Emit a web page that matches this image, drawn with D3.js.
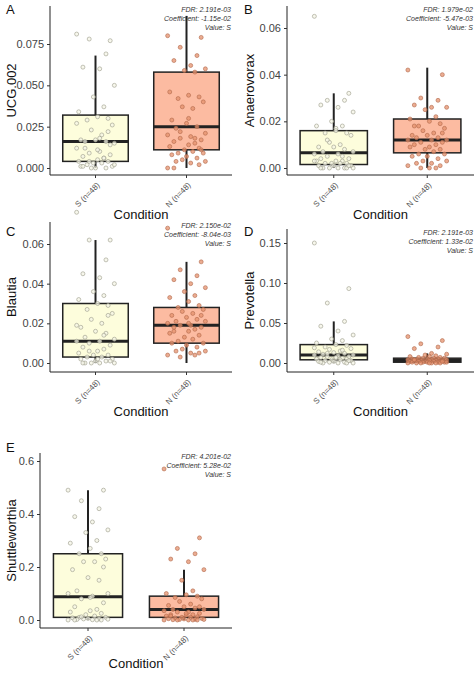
<!DOCTYPE html><html><head><meta charset="utf-8"><script src="https://cdn.jsdelivr.net/npm/d3@7"></script>
<style>body{margin:0;background:#fff}text{font-family:Arial,"Liberation Sans",sans-serif}</style></head><body><svg id="c" width="474" height="675"></svg>
<script>
const categories=["S (n=48)","N (n=48)"];
const panelNames=["UCG.002","Anaerovorax","Blautia","Prevotella","Shuttleworthia"];
const letters=["A","B","C","D","E"];
const fdr=["2.191e-03","1.979e-02","2.150e-02","2.191e-03","4.201e-02"];
const coef=["-1.15e-02","-5.47e-03","-8.04e-03","1.33e-02","5.28e-02"];
const yTicks=[[0,0.025,0.05,0.075],[0,0.02,0.04,0.06],[0,0.02,0.04,0.06],[0,0.05,0.10,0.15],[0,0.2,0.4,0.6]];
const tickFmt=[".3f",".2f",".2f",".2f",".1f"];
const boxS=[[0,0.004,0.016,0.032,0.068],[0,0.0015,0.0065,0.016,0.032],[0,0.003,0.011,0.030,0.062],[0,0.004,0.010,0.023,0.052],[0,0.01,0.088,0.25,0.49]];
const boxN=[[0,0.011,0.025,0.058,0.092],[0,0.0065,0.012,0.021,0.043],[0,0.010,0.019,0.028,0.051],[0,0.001,0.003,0.006,0.012],[0,0.01,0.04,0.09,0.19]];
const ptsS=[
[0.081,0.077,0.078,0.069,0.061,0.060,0.050,0.043,0.037,0.034,0.031,0.030,0.029,0.026,0.023,0.020,0.017,0.017,0.016,0.016,0.015,0.012,0.010,0.009,0.008,0.007,0.006,0.005,0.004,0.004,0.003,0.003,0.002,0.001,0.001,0.000,0.000,0.000,0.002,0.012,0.018,0.022,0.027,0.006,0.004,0.011,0.014,0.001],
[0.065,0.032,0.029,0.029,0.027,0.026,0.024,0.020,0.018,0.018,0.017,0.015,0.015,0.014,0.011,0.010,0.009,0.009,0.008,0.007,0.007,0.006,0.006,0.005,0.004,0.004,0.003,0.003,0.003,0.002,0.002,0.002,0.002,0.001,0.001,0.001,0.000,0.000,0.000,0.000,0.000,0.000,0.003,0.005,0.012,0.016,0.001,0.000],
[0.076,0.062,0.062,0.052,0.045,0.043,0.040,0.036,0.034,0.032,0.030,0.029,0.027,0.025,0.022,0.020,0.018,0.016,0.015,0.013,0.012,0.011,0.011,0.010,0.009,0.008,0.007,0.006,0.005,0.004,0.004,0.003,0.003,0.002,0.002,0.001,0.001,0.000,0.000,0.000,0.000,0.024,0.019,0.014,0.006,0.002,0.001,0.000],
[0.150,0.093,0.075,0.052,0.046,0.040,0.035,0.030,0.028,0.025,0.023,0.022,0.020,0.018,0.017,0.015,0.014,0.013,0.012,0.011,0.010,0.010,0.009,0.008,0.008,0.007,0.006,0.006,0.005,0.005,0.004,0.004,0.003,0.003,0.002,0.002,0.001,0.001,0.000,0.000,0.000,0.000,0.019,0.016,0.012,0.007,0.003,0.001],
[0.49,0.49,0.45,0.42,0.39,0.37,0.34,0.33,0.30,0.29,0.27,0.25,0.25,0.23,0.22,0.22,0.19,0.16,0.15,0.11,0.10,0.10,0.09,0.08,0.065,0.05,0.04,0.035,0.03,0.025,0.02,0.015,0.01,0.01,0.008,0.006,0.005,0.004,0.003,0.002,0.001,0.0,0.0,0.0,0.012,0.085,0.2,0.0]];
const ptsN=[
[0.080,0.079,0.073,0.068,0.065,0.062,0.060,0.059,0.058,0.046,0.044,0.043,0.042,0.040,0.037,0.036,0.029,0.027,0.025,0.024,0.021,0.020,0.019,0.018,0.017,0.016,0.015,0.014,0.013,0.012,0.011,0.010,0.009,0.009,0.008,0.007,0.006,0.005,0.004,0.004,0.003,0.002,0.000,0.018,0.022,0.030,0.011,0.0],
[0.042,0.040,0.030,0.029,0.027,0.026,0.026,0.025,0.022,0.021,0.020,0.019,0.018,0.017,0.016,0.015,0.014,0.014,0.013,0.013,0.012,0.012,0.012,0.011,0.011,0.010,0.010,0.009,0.009,0.008,0.008,0.007,0.006,0.006,0.005,0.005,0.004,0.003,0.003,0.002,0.002,0.001,0.001,0.000,0.000,0.000,0.015,0.018],
[0.068,0.051,0.047,0.044,0.042,0.040,0.038,0.036,0.034,0.033,0.031,0.029,0.028,0.027,0.026,0.025,0.024,0.023,0.022,0.021,0.021,0.020,0.019,0.019,0.018,0.018,0.017,0.016,0.015,0.014,0.013,0.012,0.011,0.010,0.010,0.009,0.008,0.007,0.006,0.006,0.005,0.005,0.004,0.004,0.003,0.020,0.024,0.016],
[0.033,0.028,0.024,0.020,0.018,0.012,0.011,0.010,0.009,0.008,0.008,0.007,0.007,0.006,0.006,0.006,0.005,0.005,0.005,0.004,0.004,0.004,0.004,0.003,0.003,0.003,0.003,0.003,0.002,0.002,0.002,0.002,0.002,0.001,0.001,0.001,0.001,0.001,0.001,0.000,0.000,0.000,0.000,0.000,0.000,0.000,0.002,0.004],
[0.57,0.31,0.27,0.25,0.23,0.22,0.19,0.15,0.11,0.10,0.095,0.09,0.085,0.08,0.07,0.06,0.055,0.05,0.045,0.04,0.04,0.035,0.03,0.03,0.025,0.02,0.02,0.018,0.015,0.012,0.01,0.01,0.008,0.006,0.005,0.004,0.003,0.002,0.002,0.001,0.0,0.0,0.0,0.0,0.0,0.025,0.05,0.015]];
const jitter=[-0.9,0.7,-0.3,0.5,-0.6,0.2,0.9,-0.1,0.4,-0.8,0.1,0.6,-0.4,0.8,-0.2,0.3,-0.7,0.0,0.5,-0.5,0.9,-0.9,0.2,-0.3,0.7,-0.6,0.4,0.1,-0.8,0.6,-0.1,0.3,-0.4,0.8,-0.7,0.0,0.5,-0.2,0.9,-0.5,0.2,0.6,-0.9,0.4,-0.3,0.1,0.7,-0.6];
const layout=[
 {l:50,r:232,y0:168,y1:44,top:6,bot:175,lx:6,ly:14,cy:219,yl:12},
 {l:287,r:474,y0:168,y1:28,top:6,bot:175,lx:244,ly:14,cy:219,yl:250},
 {l:50,r:232,y0:363,y1:244,top:222,bot:372,lx:6,ly:236,cy:416,yl:12},
 {l:287,r:474,y0:363,y1:243,top:229,bot:372,lx:244,ly:236,cy:416,yl:250},
 {l:40,r:232,y0:620,y1:461,top:453,bot:628,lx:6,ly:452,cy:668,yl:12}];
const svg=d3.select("#c");
const fills=["#FDFDDC","#FCBBA1"];
layout.forEach((L,i)=>{
 const t=yTicks[i];
 const y=d3.scaleLinear().domain([0,t[t.length-1]]).range([L.y0,L.y1]);
 const x=d3.scaleBand().domain(categories).range([L.l,L.r]).paddingInner(0.28).paddingOuter(0.14);
 const g=svg.append("g");
 g.append("g").attr("transform",`translate(${L.l},0)`).call(d3.axisLeft(y).tickValues(t).tickFormat(d3.format(tickFmt[i])).tickSize(3))
  .call(a=>{a.select(".domain").attr("d",`M0,${L.top}V${L.bot}`).attr("stroke","#222");a.selectAll("text").attr("font-size",11).attr("fill","#444");a.selectAll(".tick line").attr("stroke","#333");});
 g.append("g").attr("transform",`translate(0,${L.bot})`).call(d3.axisBottom(x).tickSize(3))
  .call(a=>{a.select(".domain").attr("d",`M${L.l},0H${L.r}`).attr("stroke","#222");a.selectAll(".tick line").attr("stroke","#333");
   a.selectAll("text").attr("font-size",8).attr("fill","#555").attr("text-anchor","end").attr("y",0).attr("dy","0.3em").attr("transform","translate(3,9) rotate(-45)");});
 g.append("text").attr("x",(L.l+L.r)/2).attr("y",L.cy).attr("text-anchor","middle").attr("font-size",13).attr("fill","#111").text("Condition");
 g.append("text").attr("transform",`translate(${L.yl+4},${(L.top+L.bot)/2}) rotate(-90)`).attr("text-anchor","middle").attr("font-size",13).attr("fill","#111").text(panelNames[i]);
 g.append("text").attr("x",L.lx).attr("y",L.ly).attr("font-size",13).attr("fill","#111").text(letters[i]);
 const ann=["FDR: "+fdr[i],"Coefficient: "+coef[i],"Value: S"];
 ann.forEach((s,k)=>g.append("text").attr("x",L.r-1).attr("y",L.top+6+k*9).attr("text-anchor","end").attr("font-size",7).attr("font-style","italic").attr("fill","#333").text(s));
 [boxS[i],boxN[i]].forEach((b,j)=>{
  const cx=x(categories[j])+x.bandwidth()/2,w=x.bandwidth();
  g.append("line").attr("x1",cx).attr("x2",cx).attr("y1",y(b[0])).attr("y2",y(b[4])).attr("stroke","#222").attr("stroke-width",2);
  g.append("rect").attr("x",cx-w/2).attr("width",w).attr("y",y(b[3])).attr("height",y(b[1])-y(b[3])).attr("fill",fills[j]).attr("stroke","#222").attr("stroke-width",1.5);
  g.append("line").attr("x1",cx-w/2).attr("x2",cx+w/2).attr("y1",y(b[2])).attr("y2",y(b[2])).attr("stroke","#222").attr("stroke-width",3);
  const pts=j?ptsN[i]:ptsS[i];
  g.selectAll(null).data(pts).join("circle").attr("cx",(d,k)=>cx+jitter[k%jitter.length]*w*0.32).attr("cy",d=>y(d)).attr("r",2)
   .attr("fill",j?"#E4906C":"#F4F4E6").attr("fill-opacity",0.75).attr("stroke",j?"#B0684A":"#9A9A8A").attr("stroke-width",0.6);
 });
});
</script></body></html>
